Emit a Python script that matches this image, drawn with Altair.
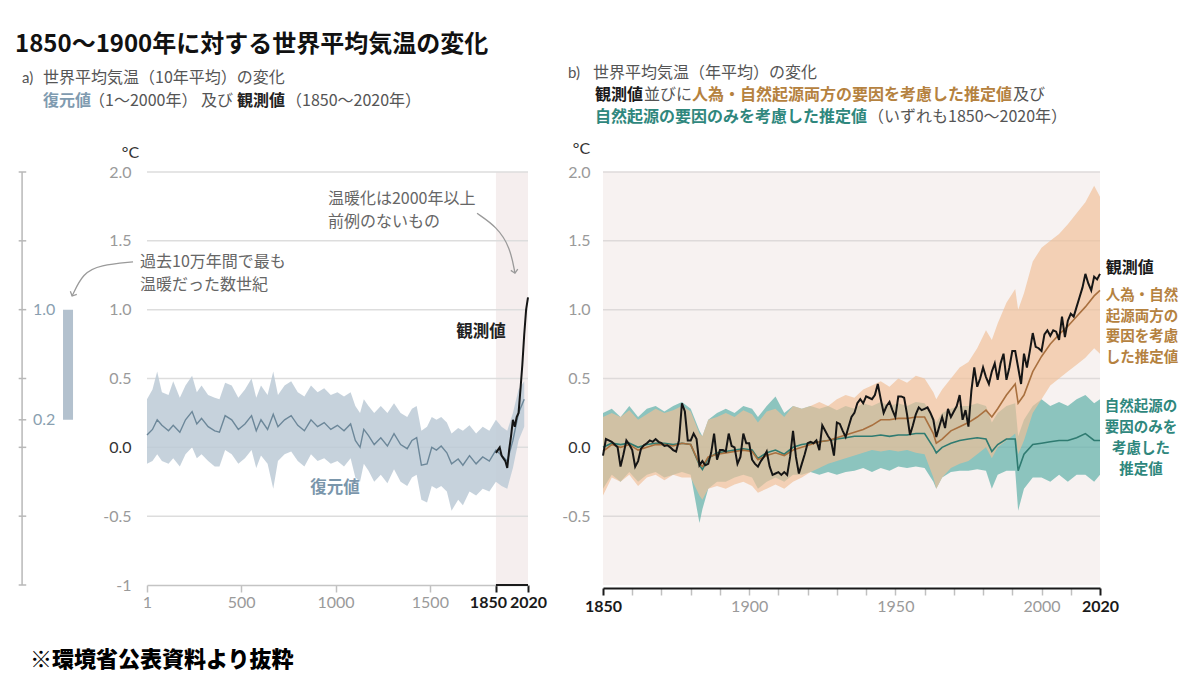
import altair as alt
import pandas as pd

JP = "Noto Sans CJK JP"
NUM = "Lato"

# ---------------- panel a : reconstruction (years 1-2000) ----------------
recon_years = [1, 30, 55, 80, 115, 140, 175, 205, 240, 265, 290, 325, 360, 385, 415, 450, 485, 520,
               555, 580, 605, 640, 670, 695, 730, 765, 800, 835, 870, 905, 940, 975, 1010, 1045,
               1080, 1105, 1130, 1150, 1175, 1205, 1240, 1275, 1310, 1345, 1380, 1405, 1430, 1455,
               1485, 1510, 1535, 1560, 1590, 1615, 1650, 1675, 1710, 1745, 1780, 1815, 1850, 1880,
               1910, 1940, 1970, 2000]
recon_mid = [0.09, 0.13, 0.2, 0.16, 0.12, 0.16, 0.11, 0.2, 0.26, 0.17, 0.21, 0.15, 0.12, 0.11, 0.23,
             0.2, 0.13, 0.17, 0.23, 0.12, 0.2, 0.13, 0.24, 0.15, 0.2, 0.23, 0.16, 0.12, 0.2, 0.15,
             0.18, 0.13, 0.16, 0.12, 0.17, 0.05, 0.0, 0.13, 0.085, 0.02, 0.07, 0.01, 0.1, 0.02,
             -0.01, 0.05, 0.07, -0.13, -0.12, 0.0, -0.02, 0.01, -0.04, -0.12, -0.085, -0.13, -0.06,
             -0.12, -0.07, -0.1, -0.02, -0.06, -0.1, 0.05, 0.25, 0.35]
recon_hi = [0.35, 0.42, 0.55, 0.4, 0.38, 0.48, 0.36, 0.45, 0.52, 0.4, 0.45, 0.38, 0.36, 0.35, 0.47,
            0.45, 0.36, 0.42, 0.5, 0.36, 0.45, 0.38, 0.55, 0.38, 0.45, 0.48, 0.4, 0.37, 0.45, 0.4,
            0.43, 0.38, 0.4, 0.37, 0.4, 0.3, 0.25, 0.35, 0.3, 0.25, 0.3, 0.25, 0.32, 0.25, 0.22,
            0.28, 0.3, 0.12, 0.15, 0.22, 0.2, 0.22, 0.18, 0.1, 0.14, 0.12, 0.16, 0.1, 0.15, 0.12,
            0.2, 0.15, 0.12, 0.25, 0.42, 0.48]
recon_lo = [-0.12, -0.1, -0.05, -0.1, -0.12, -0.08, -0.14, -0.05, 0.0, -0.08, -0.05, -0.1, -0.14,
            -0.14, -0.02, -0.05, -0.12, -0.08, -0.02, -0.15, -0.06, -0.12, -0.3, -0.1, -0.05, -0.03,
            -0.1, -0.14, -0.05, -0.1, -0.08, -0.12, -0.1, -0.14, -0.08, -0.22, -0.25, -0.12, -0.17,
            -0.25, -0.2, -0.26, -0.16, -0.25, -0.28, -0.22, -0.2, -0.38, -0.4, -0.28, -0.3, -0.28,
            -0.32, -0.46, -0.38, -0.42, -0.32, -0.35, -0.3, -0.32, -0.25, -0.28, -0.3, -0.15, 0.05,
            0.15]

# decadal observations (panel a)
obs_dec_years = [1850, 1860, 1870, 1880, 1890, 1900, 1910, 1920, 1930, 1940, 1950, 1960, 1970,
                 1980, 1990, 2000, 2010, 2020]
obs_dec = [-0.04, -0.02, 0.0, -0.06, -0.08, -0.1, -0.15, -0.02, 0.08, 0.2, 0.15, 0.22, 0.25, 0.42,
           0.6, 0.82, 1.0, 1.09]

# range bar: warmest centuries of the last 100,000 years
warm_lo = [0.2]
warm_hi = [1.0]

# ---------------- panel b : annual ----------------
obs_years = list(range(1850, 2021))
obs_annual = [
    -0.06, 0.06, 0.05, 0.04, 0.02, 0.0, -0.14, -0.05, 0.05, 0.02,
    -0.02, -0.14, -0.1, -0.01, 0.015, 0.03, 0.05, 0.04, 0.06, 0.04,
    0.03, 0.01, 0.015, 0.0, -0.02, -0.03, 0.05, 0.32, 0.26, 0.05,
    0.05, 0.1, 0.06, -0.13, -0.1, -0.13, -0.12, -0.04, 0.1, -0.09,
    -0.02, -0.02, -0.03, 0.1, 0.01, 0.0, -0.12, -0.07, 0.1, 0.03,
    0.03, -0.09, -0.12, -0.14, -0.1, -0.07, -0.03, -0.14, -0.2, -0.19,
    -0.18, -0.2, -0.18, -0.2, -0.07, 0.12, -0.07, -0.19, -0.12, -0.05,
    0.03, 0.04, 0.03, 0.05, -0.02, 0.16, 0.12, 0.08, 0.05, -0.06,
    0.18, 0.17, 0.12, 0.075, 0.15, 0.22, 0.25, 0.32, 0.35, 0.32,
    0.37, 0.36, 0.35, 0.38, 0.46, 0.35, 0.25, 0.3, 0.33, 0.27,
    0.22, 0.37, 0.37, 0.36, 0.24, 0.09, 0.16, 0.24, 0.29, 0.27,
    0.28, 0.29, 0.25, 0.2, 0.075, 0.15, 0.22, 0.14, 0.28, 0.22,
    0.26, 0.3, 0.38, 0.2, 0.27, 0.15, 0.41, 0.58, 0.44, 0.5,
    0.58, 0.51, 0.46, 0.55, 0.61, 0.49, 0.61, 0.68, 0.49, 0.58,
    0.7, 0.7, 0.58, 0.46, 0.68, 0.58, 0.7, 0.83, 0.73, 0.72,
    0.7, 0.82, 0.85, 0.81, 0.85, 0.84, 0.78, 0.95, 0.8, 0.92,
    0.97, 0.95, 1.02, 1.09, 1.16, 1.26, 1.19, 1.14, 1.24, 1.22, 1.26]

model_years = [1850, 1853, 1856, 1859, 1862, 1865, 1868, 1871, 1874, 1877, 1880, 1883, 1884, 1886,
               1889, 1892, 1895, 1898, 1901, 1903, 1906, 1909, 1912, 1915, 1918, 1921, 1924, 1927,
               1930, 1933, 1936, 1939, 1942, 1945, 1948, 1951, 1954, 1957, 1960, 1963, 1964, 1966,
               1969, 1972, 1975, 1978, 1981, 1983, 1985, 1988, 1991, 1992, 1994, 1997, 2000, 2003,
               2006, 2009, 2012, 2015, 2018, 2020]
hn_mid = [-0.03, 0.02, 0.0, 0.02, -0.02, 0.0, 0.02, 0.02, 0.01, 0.03, 0.02, -0.12, -0.14, -0.07,
          -0.05, -0.04, -0.03, -0.02, -0.03, -0.09, -0.06, -0.04, -0.06, -0.02, 0.0, 0.02, 0.04,
          0.05, 0.07, 0.09, 0.11, 0.13, 0.16, 0.2, 0.2, 0.21, 0.21, 0.22, 0.22, 0.1, 0.03, 0.06,
          0.12, 0.15, 0.18, 0.22, 0.27, 0.22, 0.28, 0.38, 0.46, 0.32, 0.38, 0.55, 0.66, 0.75, 0.82,
          0.88, 0.95, 1.02, 1.1, 1.14]
hn_hi = [0.22, 0.25, 0.22, 0.27, 0.2, 0.24, 0.28, 0.25, 0.27, 0.3, 0.26, 0.1, 0.08, 0.2, 0.22,
         0.25, 0.22, 0.27, 0.24, 0.18, 0.26, 0.28, 0.22, 0.3, 0.28, 0.3, 0.33, 0.3, 0.35, 0.38,
         0.36, 0.42, 0.45, 0.48, 0.44, 0.5, 0.47, 0.52, 0.5, 0.4, 0.35, 0.42, 0.5, 0.58, 0.62,
         0.72, 0.85, 0.78, 0.9, 1.05, 1.15, 1.0, 1.12, 1.35, 1.45, 1.5, 1.55, 1.62, 1.7, 1.78,
         1.9, 1.82]
hn_lo = [-0.35, -0.22, -0.25, -0.2, -0.28, -0.22, -0.2, -0.24, -0.2, -0.22, -0.22, -0.35, -0.38,
         -0.3, -0.28, -0.3, -0.27, -0.25, -0.28, -0.33, -0.3, -0.27, -0.3, -0.25, -0.22, -0.18,
         -0.15, -0.12, -0.1, -0.08, -0.06, -0.04, -0.02, -0.03, -0.02, -0.03, -0.02, -0.04, -0.05,
         -0.22, -0.3, -0.22, -0.15, -0.12, -0.1, -0.05, 0.0, -0.08, 0.0, 0.05, 0.1, -0.05, 0.05,
         0.25, 0.35, 0.45, 0.5, 0.55, 0.6, 0.65, 0.72, 0.68]
nat_mid = [0.0, 0.03, 0.02, 0.03, 0.0, 0.02, 0.03, 0.03, 0.02, 0.03, 0.02, -0.13, -0.16, -0.08,
           -0.04, -0.03, -0.02, -0.01, -0.02, -0.08, -0.04, -0.02, -0.05, 0.0, 0.02, 0.03, 0.04,
           0.05, 0.06, 0.07, 0.08, 0.08, 0.08, 0.09, 0.08, 0.09, 0.09, 0.1, 0.1, 0.0, -0.04, 0.0,
           0.03, 0.05, 0.06, 0.07, 0.06, -0.03, 0.02, 0.06, 0.06, -0.17, -0.05, 0.02, 0.03, 0.04,
           0.05, 0.05, 0.07, 0.1, 0.05, 0.05]
nat_hi = [0.25, 0.28, 0.22, 0.3, 0.22, 0.28, 0.3, 0.26, 0.3, 0.33, 0.28, 0.12, 0.08, 0.2, 0.25,
          0.28, 0.25, 0.3, 0.28, 0.22, 0.3, 0.37, 0.25, 0.3, 0.28, 0.3, 0.28, 0.3, 0.27, 0.3, 0.28,
          0.32, 0.3, 0.33, 0.3, 0.32, 0.3, 0.33, 0.32, 0.22, 0.18, 0.25, 0.28, 0.3, 0.3, 0.32, 0.3,
          0.18, 0.25, 0.3, 0.32, 0.08, 0.2, 0.3, 0.35, 0.3, 0.33, 0.3, 0.35, 0.38, 0.32, 0.35]
nat_lo = [-0.3, -0.2, -0.25, -0.18, -0.25, -0.2, -0.18, -0.22, -0.2, -0.18, -0.2, -0.55, -0.45,
          -0.3, -0.25, -0.25, -0.22, -0.2, -0.22, -0.3, -0.25, -0.22, -0.25, -0.2, -0.2, -0.18,
          -0.2, -0.18, -0.2, -0.18, -0.17, -0.15, -0.18, -0.15, -0.17, -0.14, -0.15, -0.14, -0.15,
          -0.25, -0.3, -0.22, -0.18, -0.17, -0.17, -0.16, -0.17, -0.3, -0.2, -0.17, -0.17, -0.46,
          -0.3, -0.22, -0.22, -0.25, -0.2, -0.25, -0.2, -0.2, -0.25, -0.2]

# ---------------- texts ----------------
TITLE = "1850～1900年に対する世界平均気温の変化"
FOOTER = "※環境省公表資料より抜粋"

# ---------------- scales / axes ----------------
LX = alt.Scale(domain=[1, 2020], nice=False, zero=False)
RX = alt.Scale(domain=[1850, 2020], nice=False, zero=False)
YS = alt.Scale(domain=[-1, 2], nice=False, zero=False)


def cond(test, a, b):
    return {"condition": {"test": test, "value": a}, "value": b}


ENDS_L = "datum.value >= 1850"
left_xaxis = alt.Axis(
    values=[1, 500, 1000, 1500, 1850, 2020], format="d", title=None, grid=False,
    labelFont=NUM, labelFontSize=16, labelPadding=2, labelFlush=False, labelOverlap=False,
    labelColor=cond(ENDS_L, "#1a1a1a", "#9a9a9a"),
    labelFontWeight=cond(ENDS_L, "bold", "normal"),
    labelOffset=cond("datum.value == 1850", -8, 0),
    tickColor=cond(ENDS_L, "#1a1a1a", "#c0c0c0"),
    tickWidth=cond(ENDS_L, 2, 1.5),
    tickSize=7,
    domainColor="#c4c4c4", domainWidth=1.5)

left_yaxis = alt.Axis(
    values=[-1, -0.5, 0, 0.5, 1, 1.5, 2],
    labelExpr="datum.value == -1 ? '-1' : (datum.value == -0.5 ? '-0.5' : format(datum.value, '.1f'))",
    ticks=False, domain=False, grid=False, labelFont=NUM, labelFontSize=16, labelPadding=16,
    labelColor=cond("datum.value == 0", "#333333", "#9a9a9a"),
    title="°C", titleAngle=0, titleX=-17, titleY=-12, titleAlign="center",
    titleBaseline="bottom", titleFont=NUM, titleFontSize=16, titleFontWeight="normal",
    titleColor="#333333")

ENDS_R = "datum.value == 1850 || datum.value == 2020"
right_xaxis = alt.Axis(
    values=list(range(1850, 2021, 10)), format="d",
    labelExpr="indexof([1850, 1900, 1950, 2000, 2020], datum.value) >= 0 ? datum.label : ''",
    title=None, grid=False, labelFont=NUM, labelFontSize=16, labelPadding=3, labelFlush=False,
    labelOverlap=False, offset=3,
    labelColor=cond(ENDS_R, "#1a1a1a", "#9a9a9a"),
    labelFontWeight=cond(ENDS_R, "bold", "normal"),
    tickColor=cond(ENDS_R, "#1a1a1a", "#c0c0c0"),
    tickWidth=cond(ENDS_R, 2, 1.5),
    tickSize=7,
    domainColor="#1a1a1a", domainWidth=2)

right_yaxis = alt.Axis(
    values=[-0.5, 0, 0.5, 1, 1.5, 2],
    labelExpr="datum.value == -0.5 ? '-0.5' : format(datum.value, '.1f')",
    ticks=False, domain=False, grid=False, labelFont=NUM, labelFontSize=16, labelPadding=13,
    labelColor=cond("datum.value == 0", "#333333", "#9a9a9a"),
    title="°C", titleAngle=0, titleX=-22, titleY=-16, titleAlign="center",
    titleBaseline="bottom", titleFont=NUM, titleFontSize=16, titleFontWeight="normal",
    titleColor="#333333")


def LXe(f):
    return alt.X(f, type="quantitative", scale=LX, axis=left_xaxis)


def LYe(f):
    return alt.Y(f, type="quantitative", scale=YS, axis=left_yaxis)


def RXe(f):
    return alt.X(f, type="quantitative", scale=RX, axis=right_xaxis)


def RYe(f):
    return alt.Y(f, type="quantitative", scale=YS, axis=right_yaxis)


def ptxt(t, x, y, size=16, color="#555555", weight="normal", align="left", font=JP):
    return alt.Chart(pd.DataFrame({"t": [t]})).mark_text(
        align=align, baseline="middle", font=font, fontSize=size, color=color,
        fontWeight=weight).encode(x=alt.value(x), y=alt.value(y), text="t:N")


def dtxt(t, x, y, XE, YE, size=16.5, color="#555555", weight="normal", align="left",
         baseline="middle", lh=None):
    kw = dict(align=align, baseline=baseline, font=JP, fontSize=size, color=color,
              fontWeight=weight, lineBreak="\n")
    if lh:
        kw["lineHeight"] = lh
    return alt.Chart(pd.DataFrame({"t": [t], "x": [x], "y": [y]})).mark_text(**kw).encode(
        x=XE("x"), y=YE("y"), text="t:N")


# ================= panel a =================
pinkL = alt.Chart(pd.DataFrame({"x": [1850], "x2": [2020], "y": [-1], "y2": [2]})).mark_rect(
    color="#f5eeee").encode(x=LXe("x"), x2="x2:Q", y=LYe("y"), y2="y2:Q")

grid_vals = [-0.5, 0, 0.5, 1, 1.5, 2]
gridL = alt.Chart(pd.DataFrame({"v": grid_vals})).mark_rule(color="#dddddd", strokeWidth=1.5).encode(
    y=LYe("v"))

rec_df = pd.DataFrame({"year": recon_years, "mid": recon_mid, "hi": recon_hi, "lo": recon_lo})
rec_band = alt.Chart(rec_df).mark_area(color="#bccad6", opacity=0.85).encode(
    x=LXe("year"), y=LYe("hi"), y2="lo:Q")
rec_line = alt.Chart(rec_df).mark_line(color="#6c8799", strokeWidth=1.4).encode(
    x=LXe("year"), y=LYe("mid"))

obsL = alt.Chart(pd.DataFrame({"year": obs_dec_years, "v": obs_dec})).mark_line(
    color="#151515", strokeWidth=2).encode(x=LXe("year"), y=LYe("v"))

bracket = alt.Chart(pd.DataFrame({"a": [1850], "b": [2020], "y": [-1]})).mark_rule(
    color="#1a1a1a", strokeWidth=2).encode(x=LXe("a"), x2="b:Q", y=LYe("y"))

# small side axis with the warm-centuries bar
SAX = -661
small_line = alt.Chart(pd.DataFrame({"x": [SAX], "y": [-1], "y2": [2]})).mark_rule(
    color="#b8b8b8", strokeWidth=1.5).encode(x=LXe("x"), y=LYe("y"), y2="y2:Q")
small_tick_vals = [2, 1.5, 1, 0.5, 0.2, 0, -0.5, -1]
small_ticks = alt.Chart(pd.DataFrame({"v": small_tick_vals, "a": SAX - 18, "b": SAX + 22})).mark_rule(
    color="#b8b8b8", strokeWidth=1.5).encode(x=LXe("a"), x2="b:Q", y=LYe("v"))
warm_bar = alt.Chart(pd.DataFrame({"a": [-444], "b": [-391], "lo": warm_lo, "hi": warm_hi})).mark_rect(
    color="#b3c1ce").encode(x=LXe("a"), x2="b:Q", y=LYe("lo"), y2="hi:Q")
small_lab = alt.Chart(pd.DataFrame({"x": [-603, -603], "y": [1.0, 0.2], "t": ["1.0", "0.2"]})).mark_text(
    align="left", baseline="middle", font=NUM, fontSize=16, color="#8a9fb0").encode(
    x=LXe("x"), y=LYe("y"), text="t:N")

# arrows
arr1 = alt.Chart(pd.DataFrame({"x": [-73, -248, -338, -396], "y": [1.347, 1.324, 1.266, 1.099]})).mark_line(
    color="#9a9a9a", strokeWidth=1.3, interpolate="basis").encode(x=LXe("x"), y=LYe("y"))
arr2 = alt.Chart(pd.DataFrame({"x": [1750, 1856, 1925, 1951], "y": [1.70, 1.60, 1.454, 1.265]})).mark_line(
    color="#9a9a9a", strokeWidth=1.3, interpolate="basis").encode(x=LXe("x"), y=LYe("y"))
head1 = alt.Chart(pd.DataFrame({"x": [-396], "y": [1.099]})).mark_point(
    shape="M-1,-1L0,0L1,-1", filled=False, size=50, color="#9a9a9a", strokeWidth=1.3,
    angle=25, opacity=1).encode(x=LXe("x"), y=LYe("y"))
head2 = alt.Chart(pd.DataFrame({"x": [1951], "y": [1.265]})).mark_point(
    shape="M-1,-1L0,0L1,-1", filled=False, size=50, color="#9a9a9a", strokeWidth=1.3,
    angle=349, opacity=1).encode(x=LXe("x"), y=LYe("y"))

ann_a = [
    dtxt("過去10万年間で最も\n温暖だった数世紀", -36, 1.404, LXe, LYe, size=16, color="#666666",
         baseline="top", lh=23),
    dtxt("温暖化は2000年以上\n前例のないもの", 960, 1.861, LXe, LYe, size=16, color="#666666",
         baseline="top", lh=23),
    dtxt("観測値", 1771, 0.837, LXe, LYe, size=16.5, color="#222222", weight="bold", align="center"),
    dtxt("復元値", 997, -0.295, LXe, LYe, size=16.5, color="#7a96ab", weight="bold", align="center"),
]

# header (pixel offsets relative to the panel-a plot origin)
head_a = [
    ptxt(TITLE, -132, -127, size=24, color="#111111", weight="bold"),
    ptxt("a)", -125, -94, size=15, color="#555555", font=NUM),
    ptxt("世界平均気温（10年平均）の変化", -104, -94),
    ptxt("復元値", -104, -71, color="#7f9bb0", weight="bold"),
    ptxt("（1～2000年） 及び", -58, -71),
    ptxt("観測値", 90, -71, color="#222222", weight="bold"),
    ptxt("（1850～2020年）", 139, -71),
    ptxt(FOOTER, -117, 488, size=22, color="#000000", weight=900),
]

left = alt.layer(pinkL, gridL, small_line, small_ticks, warm_bar, small_lab, rec_band, rec_line,
                 obsL, bracket, arr1, arr2, head1, head2, *ann_a, *head_a).properties(
    width=381, height=413)

# ================= panel b =================
bgR = alt.Chart(pd.DataFrame({"x": [1850], "x2": [2020], "y": [-1], "y2": [2]})).mark_rect(
    color="#f7f2f1").encode(x=RXe("x"), x2="x2:Q", y=RYe("y"), y2="y2:Q")
gridR = alt.Chart(pd.DataFrame({"v": grid_vals})).mark_rule(color="#dedada", strokeWidth=1.5).encode(
    y=RYe("v"))

mdf = pd.DataFrame({"year": model_years, "hn": hn_mid, "hn_hi": hn_hi, "hn_lo": hn_lo,
                    "nat": nat_mid, "nat_hi": nat_hi, "nat_lo": nat_lo})
nat_band = alt.Chart(mdf).mark_area(color="#62b1aa", opacity=0.72).encode(
    x=RXe("year"), y=RYe("nat_hi"), y2="nat_lo:Q")
hn_band = alt.Chart(mdf).mark_area(color="#f0bf98", opacity=0.68).encode(
    x=RXe("year"), y=RYe("hn_hi"), y2="hn_lo:Q")
nat_line = alt.Chart(mdf).mark_line(color="#2f7b71", strokeWidth=1.6).encode(
    x=RXe("year"), y=RYe("nat"))
hn_line = alt.Chart(mdf).mark_line(color="#a9703f", strokeWidth=1.6).encode(
    x=RXe("year"), y=RYe("hn"))
obsR = alt.Chart(pd.DataFrame({"year": obs_years, "v": obs_annual})).mark_line(
    color="#151515", strokeWidth=2).encode(x=RXe("year"), y=RYe("v"))

ann_b = [
    dtxt("観測値", 2022, 1.30, RXe, RYe, size=16, color="#1a1a1a", weight="bold"),
    dtxt("人為・自然\n起源両方の\n要因を考慮\nした推定値", 2022, 1.15, RXe, RYe, size=14.5,
         color="#b5823f", weight="bold", baseline="top", lh=20.5),
    dtxt("自然起源の\n要因のみを\n考慮した\n推定値", 2034, 0.343, RXe, RYe, size=14.5,
         color="#2f877d", weight="bold", align="center", baseline="top", lh=21),
]

head_b = [
    ptxt("b)", -35, -99, size=15, color="#555555", font=NUM),
    ptxt("世界平均気温（年平均）の変化", -10, -99),
    ptxt("観測値", -8, -77, color="#1a1a1a", weight="bold"),
    ptxt("並びに", 41, -77),
    ptxt("人為・自然起源両方の要因を考慮した推定値", 89, -77, color="#b5823f", weight="bold"),
    ptxt("及び", 410, -77),
    ptxt("自然起源の要因のみを考慮した推定値", -8, -55, color="#2f877d", weight="bold"),
    ptxt("（いずれも1850～2020年）", 265, -55),
]

right = alt.layer(bgR, gridR, nat_band, hn_band, nat_line, hn_line, obsR, *ann_b, *head_b).properties(
    width=497, height=413)

chart = alt.hconcat(left, right, spacing=75, bounds="flush").properties(
    padding={"left": 7, "top": 25, "right": 5, "bottom": 2},
    background="white",
).configure_view(stroke=None)

chart.save("out.html", embed_options={"renderer": "svg", "actions": False})
